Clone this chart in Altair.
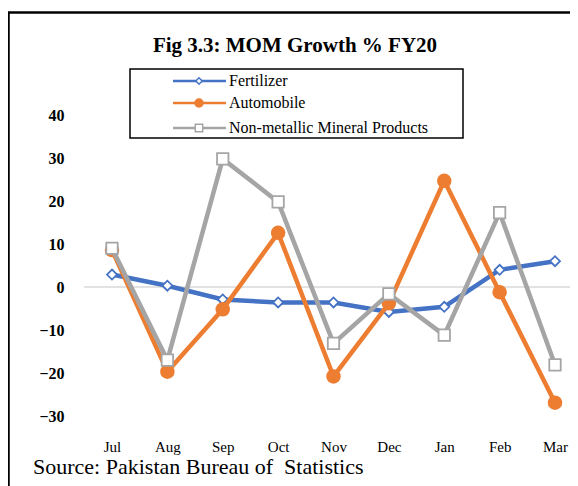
import altair as alt
import pandas as pd

months = ["Jul", "Aug", "Sep", "Oct", "Nov", "Dec", "Jan", "Feb", "Mar"]
fertilizer = [2.9, 0.3, -2.9, -3.6, -3.6, -5.8, -4.6, 4.0, 6.0]
automobile = [8.6, -19.7, -5.2, 12.6, -20.8, -3.8, 24.7, -1.2, -26.9]
nonmetallic = [9.0, -17.0, 29.8, 19.8, -13.1, -1.6, -11.2, 17.3, -18.1]
series_names = ["Fertilizer", "Automobile", "Non-metallic Mineral Products"]
series_values = [fertilizer, automobile, nonmetallic]
series_colors = ["#4472C4", "#ED7D31", "#A5A5A5"]
y_ticks = [-30, -20, -10, 0, 10, 20, 30, 40]
title_text = "Fig 3.3: MOM Growth % FY20"
source_text = "Source: Pakistan Bureau of \u00a0Statistics"

W, H = 486, 301
SERIF = "Liberation Serif"

x_enc = alt.X(
    "month:N", sort=months,
    scale=alt.Scale(type="point", range=[28, 471], padding=0),
    axis=alt.Axis(title=None, domain=False, ticks=False, tickSize=0, labelAngle=0,
                  labelFont=SERIF, labelFontSize=15, labelColor="black",
                  labelPadding=23),
)
y_enc = alt.Y(
    "value:Q",
    scale=alt.Scale(domain=[-30, 40], nice=False, zero=False),
    axis=alt.Axis(title=None, values=y_ticks, grid=False, domain=False, ticks=False,
                  tickSize=0, labelFont=SERIF, labelFontSize=16, labelFontWeight="bold",
                  labelColor="black", labelPadding=20),
)

one = pd.DataFrame({"k": [0]})

layers = []

# outer border
layers.append(alt.Chart(one).mark_rect(filled=False, stroke="black", strokeWidth=2.5).encode(
    x=alt.value(-75.5), x2=alt.value(W + 60), y=alt.value(-102.5), y2=alt.value(H + 200)))

# zero line
layers.append(alt.Chart(one).mark_rule(color="#D9D9D9", strokeWidth=1.5).encode(
    y=alt.datum(0), x=alt.value(0), x2=alt.value(W)))

marker_specs = [
    dict(shape="diamond", fill="white", size=100, strokeWidth=1.8),
    dict(shape="circle", fill=series_colors[1], size=210, strokeWidth=0),
    dict(shape="square", fill="white", size=130, strokeWidth=1.8),
]

for name, vals, col, ms in zip(series_names, series_values, series_colors, marker_specs):
    df = pd.DataFrame({"month": months, "value": vals, "series": name})
    layers.append(alt.Chart(df).mark_line(color=col, strokeWidth=4.5).encode(x=x_enc, y=y_enc))
    layers.append(alt.Chart(df).mark_point(
        shape=ms["shape"], filled=True, fill=ms["fill"], stroke=col,
        strokeWidth=ms["strokeWidth"], size=ms["size"], opacity=1
    ).encode(x=x_enc, y=y_enc))

# legend box
layers.append(alt.Chart(one).mark_rect(fill="white", stroke="black", strokeWidth=1.5).encode(
    x=alt.value(46), x2=alt.value(379), y=alt.value(-46), y2=alt.value(23)))

legend_y = [-34, -12, 13]
legend_marker_sizes = [40, 90, 55]
for name, col, ms, ly, lsz in zip(series_names, series_colors, marker_specs, legend_y, legend_marker_sizes):
    ldf = pd.DataFrame({"name": [name]})
    layers.append(alt.Chart(ldf).mark_rule(color=col, strokeWidth=2.5).encode(
        x=alt.value(89), x2=alt.value(142), y=alt.value(ly)))
    layers.append(alt.Chart(ldf).mark_point(
        shape=ms["shape"], filled=True, fill=ms["fill"], stroke=col,
        strokeWidth=1.5 if ms["strokeWidth"] else 0, size=lsz, opacity=1
    ).encode(x=alt.value(115), y=alt.value(ly)))
    layers.append(alt.Chart(ldf).mark_text(
        align="left", baseline="middle", font=SERIF, fontSize=16, color="black"
    ).encode(x=alt.value(145), y=alt.value(ly), text="name:N"))

# title
layers.append(alt.Chart(one).mark_text(
    align="center", baseline="alphabetic", font=SERIF, fontSize=21, fontWeight="bold", color="black"
).encode(x=alt.value(211), y=alt.value(-63), text=alt.value(title_text)))

# source
layers.append(alt.Chart(one).mark_text(
    align="left", baseline="alphabetic", font=SERIF, fontSize=22, color="black"
).encode(x=alt.value(-51), y=alt.value(359), text=alt.value(source_text)))

chart = alt.layer(*layers).properties(
    width=W, height=H,
    autosize=alt.AutoSizeParams(type="none"),
    padding={"left": 76, "top": 107, "right": 0, "bottom": 70},
    background="white",
).configure_view(strokeWidth=0)

chart.save("out.html", embed_options={"renderer": "svg", "actions": False})
